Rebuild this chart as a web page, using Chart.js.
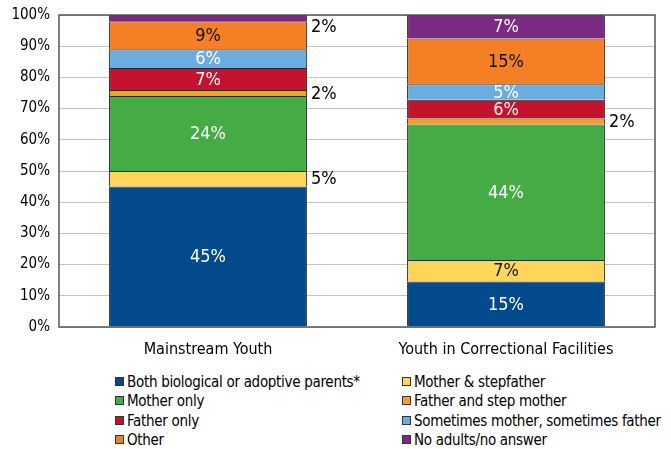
<!DOCTYPE html>
<html>
<head>
<meta charset="utf-8">
<script src="https://cdn.jsdelivr.net/npm/chart.js@4"></script>
<style>
  body { margin: 0; background: #fff; }
  #wrap { position: relative; width: 671px; height: 449px; }
  #chart-box { position: absolute; left: 0; top: 0; width: 671px; height: 365px; }
  #legend { position: absolute; left: 0; top: 373px; width: 671px; font-family: "DejaVu Sans Condensed", sans-serif; font-size: 15px; letter-spacing: -0.3px; color: #000; }
  .item { position: absolute; white-space: nowrap; line-height: 19px; }
  .box { display: inline-block; width: 7px; height: 7px; border: 1px solid #333; margin-right: 3px; vertical-align: 1px; }
</style>
</head>
<body>
<div id="wrap">
  <div id="chart-box"><canvas id="chart"></canvas></div>
  <div id="legend"></div>
</div>
<script>
// Categories and series
const categories = ['Mainstream Youth', 'Youth in Correctional Facilities'];
const seriesNames = [
    'Both biological or adoptive parents*',
    'Mother & stepfather',
    'Mother only',
    'Father and step mother',
    'Father only',
    'Sometimes mother, sometimes father',
    'Other',
    'No adults/no answer'
];
const seriesColors = ['#024a8c', '#ffd55a', '#45ab45', '#f7a11c', '#c4122f', '#6badde', '#f47f24', '#7a2a83'];
const labelColors = ['#fff', '#111', '#fff', '#111', '#fff', '#fff', '#111', '#fff'];

// Values per series: [Mainstream, Correctional]
const bothParents = [45, 14.6];
const motherStepfather = [5, 6.9];
const motherOnly = [24, 43.4];
const fatherStepmother = [2, 1.9];
const fatherOnly = [7, 6];
const sometimes = [6, 5];
const other = [9, 14.7];
const noAdults = [2, 7.5];

// Printed percentages
const printedMainstream = ['45%', '5%', '24%', '2%', '7%', '6%', '9%', '2%'];
const printedCorrectional = ['15%', '7%', '44%', '2%', '6%', '5%', '15%', '7%'];
// [series, category] pairs whose label sits to the right of the bar
const outsideLabels = [[1, 0], [3, 0], [7, 0], [3, 1]];

const yTicks = [0, 10, 20, 30, 40, 50, 60, 70, 80, 90, 100];

const FONT = '"DejaVu Sans Condensed", sans-serif';
const seriesValues = [bothParents, motherStepfather, motherOnly, fatherStepmother, fatherOnly, sometimes, other, noAdults];
const printed = [printedMainstream, printedCorrectional];

// Labels inside / beside segments
const segmentLabels = {
    id: 'segmentLabels',
    afterDatasetsDraw(chart) {
        const ctx = chart.ctx;
        ctx.save();
        ctx.font = '18px ' + FONT;
        ctx.textBaseline = 'middle';
        chart.data.datasets.forEach((ds, di) => {
            chart.getDatasetMeta(di).data.forEach((bar, ci) => {
                const text = printed[ci][di];
                const outside = outsideLabels.some(p => p[0] === di && p[1] === ci);
                const yMid = (bar.y + bar.base) / 2;
                if (outside) {
                    ctx.fillStyle = '#000';
                    ctx.textAlign = 'left';
                    ctx.fillText(text, bar.x + bar.width / 2 + 4, Math.max(yMid + 1, chart.chartArea.top + 12));
                } else {
                    ctx.fillStyle = labelColors[di];
                    ctx.textAlign = 'center';
                    ctx.fillText(text, bar.x, yMid + 1);
                }
            });
        });
        ctx.restore();
    }
};

// Dark frame round the plot
const frame = {
    id: 'frame',
    afterDraw(chart) {
        const a = chart.chartArea;
        const ctx = chart.ctx;
        ctx.save();
        ctx.strokeStyle = '#555';
        ctx.lineWidth = 1.5;
        ctx.strokeRect(a.left, a.top, a.right - a.left, a.bottom - a.top);
        ctx.restore();
    }
};

new Chart(document.getElementById('chart'), {
    type: 'bar',
    data: {
        labels: categories,
        datasets: seriesNames.map((name, i) => ({
            label: name,
            data: seriesValues[i],
            backgroundColor: seriesColors[i],
            borderColor: '#2a2a2a',
            borderWidth: 1,
            barPercentage: 0.664,
            categoryPercentage: 1
        }))
    },
    options: {
        responsive: true,
        maintainAspectRatio: false,
        animation: false,
        layout: { padding: { top: 10, right: 16, left: 0, bottom: 0 } },
        plugins: {
            legend: { display: false },
            tooltip: { enabled: false }
        },
        scales: {
            x: {
                stacked: true,
                grid: { display: false },
                border: { display: false },
                ticks: { color: '#000', font: { family: FONT, size: 16 }, padding: 5 },
                afterFit: s => { s.height = 38; }
            },
            y: {
                stacked: true,
                min: 0,
                max: 100,
                afterBuildTicks: s => { s.ticks = yTicks.map(v => ({ value: v })); },
                grid: { color: '#c4c4c4', lineWidth: 1, drawTicks: false },
                border: { display: false },
                ticks: {
                    color: '#000',
                    padding: 9,
                    font: { family: FONT, size: 15, lineHeight: 0.8 },
                    callback: v => v + '%'
                },
                afterFit: s => { s.width = 59; }
            }
        }
    },
    plugins: [segmentLabels, frame]
});

// Two-column legend, filled row by row
const legend = document.getElementById('legend');
seriesNames.forEach((name, i) => {
    const item = document.createElement('div');
    item.className = 'item';
    item.style.left = (i % 2 === 0 ? 115 : 402) + 'px';
    item.style.top = (Math.floor(i / 2) * 19.3) + 'px';
    item.innerHTML = `<span class="box" style="background:${seriesColors[i]}"></span>${name}`;
    legend.appendChild(item);
});
</script>
</body>
</html>
